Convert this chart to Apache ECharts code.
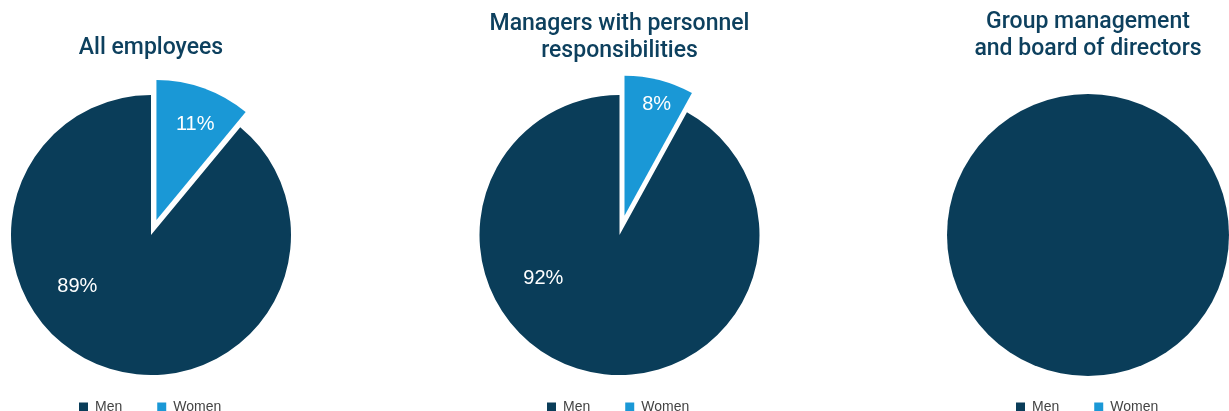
<!DOCTYPE html>
<html>
<head>
<meta charset="utf-8">
<script src="https://cdn.jsdelivr.net/npm/echarts@6/dist/echarts.min.js"></script>
<style>
html,body{margin:0;padding:0;background:#fff;}
#c{width:1229px;height:411px;}
</style>
</head>
<body>
<div id="c"></div>
<script>
// ---- data ----
const categories = ['Women', 'Men'];
const legendOrder = ['Men', 'Women'];
const chartTitles = ['All employees', 'Managers with personnel\nresponsibilities', 'Group management\nand board of directors'];
const allEmployees = [11, 89];
const managers = [8, 92];
const groupManagement = [0, 100];

// ---- styles / layout ----
const DARK = '#0a3d59';
const BLUE = '#1a98d6';
const FONT = 'Liberation Sans, Arial, sans-serif';
const TITLE_FONT = 'Roboto, Liberation Sans, Arial, sans-serif';
const pies = [
  { values: allEmployees, cx: 151, title: chartTitles[0], titleTop: 35, legendLeft: 79, offset: 16, showLabel: true,
    nudge: { Men: [-49, -17], Women: [14, -27] } },
  { values: managers, cx: 619.5, title: chartTitles[1], titleTop: 11, legendLeft: 547, offset: 20, showLabel: true,
    nudge: { Men: [-58, -27], Women: [14, -40] } },
  { values: groupManagement, cx: 1088, title: chartTitles[2], titleTop: 9, legendLeft: 1016, offset: 20, showLabel: false,
    nudge: { Men: [0, 0], Women: [0, 0] } }
];

const colorOf = { Men: DARK, Women: BLUE };

const chart = echarts.init(document.getElementById('c'), null, { renderer: 'canvas' });

const option = {
  animation: false,
  color: [BLUE, DARK],
  title: pies.map(p => ({
    text: p.title,
    left: p.cx,
    top: p.titleTop,
    padding: 0,
    textAlign: 'center',
    textStyle: { fontFamily: TITLE_FONT, fontSize: 23, fontWeight: 500, color: '#0d405e', lineHeight: 27 }
  })),
  legend: pies.map((p, i) => ({
    data: legendOrder,
    seriesIndex: i,
    left: p.legendLeft,
    top: 400,
    padding: 0,
    itemWidth: 9,
    itemHeight: 9,
    itemGap: 35,
    icon: 'rect',
    selectedMode: false,
    textStyle: { fontFamily: FONT, fontSize: 14, color: '#444', padding: [0, 0, 0, 2] }
  })),
  series: pies.map((p, i) => ({
    type: 'pie',
    center: [p.cx, 235],
    radius: i === 2 ? 141 : 140,
    startAngle: 90,
    clockwise: true,
    selectedMode: 'single',
    selectedOffset: p.offset,
    emphasis: { disabled: true },
    silent: true,
    label: {
      show: p.showLabel,
      position: 'inside',
      formatter: params => params.value > 0 ? params.value + '%' : '',
      color: '#fff',
      fontFamily: FONT,
      fontSize: 20
    },
    labelLine: { show: false },
    labelLayout: params => {
      const n = p.nudge[categories[params.dataIndex]] || [0, 0];
      return { dx: n[0], dy: n[1] };
    },
    itemStyle: { borderWidth: 0 },
    data: categories.map((name, k) => ({
      name: name,
      value: p.values[k],
      selected: name === 'Women' && p.values[k] > 0,
      itemStyle: { color: colorOf[name] },
      select: { itemStyle: { color: colorOf[name], borderWidth: 0 } }
    }))
  }))
};

chart.setOption(option);
</script>
</body>
</html>
